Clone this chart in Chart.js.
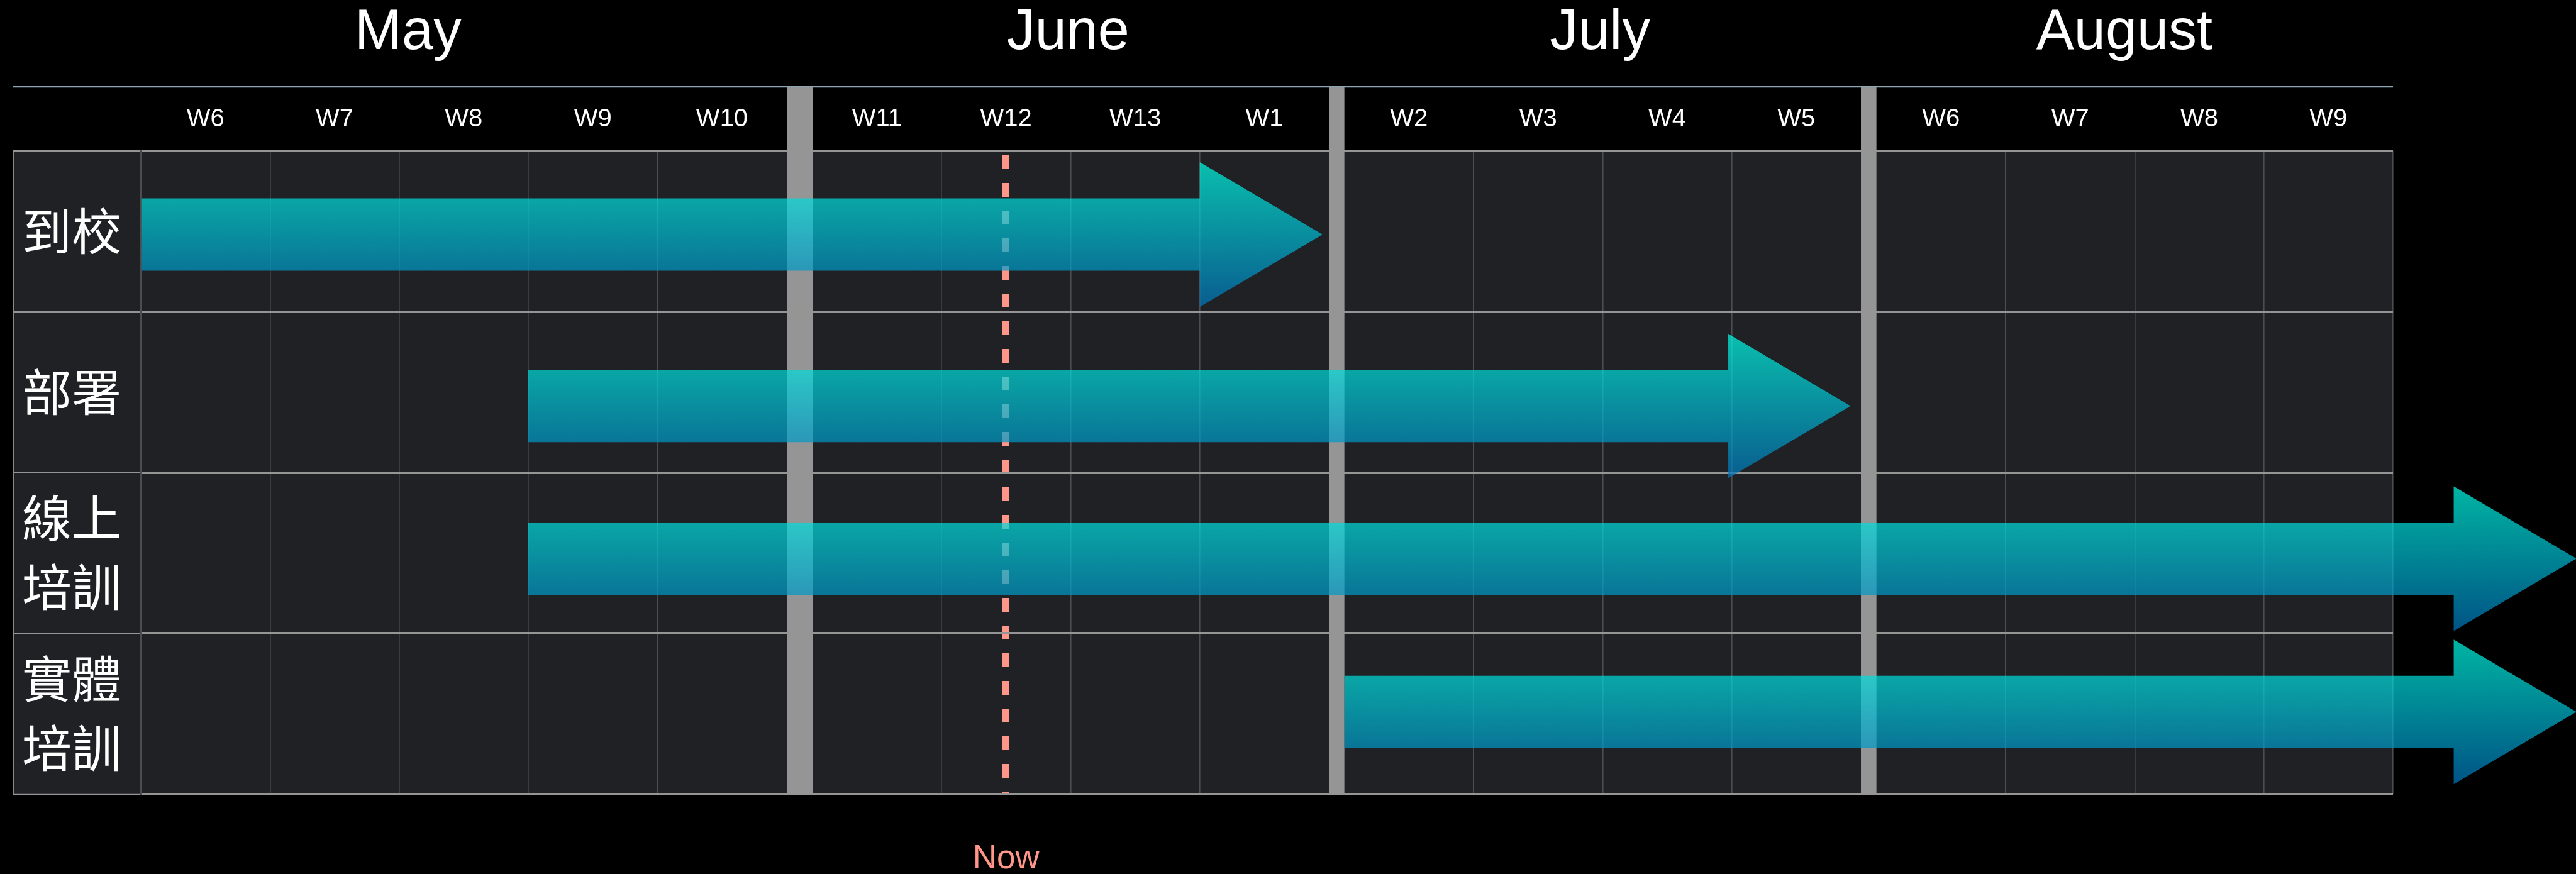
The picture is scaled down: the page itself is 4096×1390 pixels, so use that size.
<!DOCTYPE html>
<html>
<head>
<meta charset="utf-8">
<script src="https://cdn.jsdelivr.net/npm/chart.js@4/dist/chart.umd.min.js"></script>
<style>
  html, body { margin: 0; background: #000; }
  canvas { display: block; }
</style>
</head>
<body>
<canvas id="gantt" width="4096" height="1390"></canvas>
<script>
// values
const months = ["May", "June", "July", "August"];
const weeksPerMonth = [5, 4, 4, 4];
const weekLabels = ["W6", "W7", "W8", "W9", "W10", "W11", "W12", "W13", "W1", "W2", "W3", "W4", "W5", "W6", "W7", "W8", "W9"];
const monthLabelAt = [2.07, 6.98, 10.98, 14.92]; // week position of each month name
const tasks = ["到校", "部署", ["線上", "培訓"], ["實體", "培訓"]];
const taskStart = [0, 3, 3, 9];              // week where the arrow starts
const taskEnd = [8.95, 12.92, 18.42, 18.42]; // week where the arrow tip is
const nowAt = 6.5;

// look
const latin = "'Liberation Sans', Arial, sans-serif";
const cjk = "'Noto Sans CJK TC', 'Noto Sans CJK SC', sans-serif";
const gridBg = "#202124";
const lineGrey = "#959595";
const weekLine = "#4a4d52";
const nowColor = "#ff968a";
const monthGap = [0.2, 0.12, 0.12]; // grey separator between months, in weeks
const headLen = 195;
const arrowShift = [5, 22, 9, -3]; // arrows sit a little off their row centre

// week index -> axis value (month separators take a bit of room)
const monthBounds = [];
weeksPerMonth.reduce((acc, n, i) => { if (i > 0) monthBounds.push(acc); return acc + n; }, 0);
function axisPos(w) {
  let v = w;
  monthBounds.forEach((b, k) => { if (w >= b) v += monthGap[k]; });
  return v;
}
const xMax = axisPos(weekLabels.length);

// ticks of the week axis: boundaries, separators and labels
const xTicks = [];
weekLabels.forEach((w, i) => {
  const k = monthBounds.indexOf(i);
  if (k >= 0) xTicks.push({ value: axisPos(i) - monthGap[k] / 2, kind: "band", gap: monthGap[k] });
  else xTicks.push({ value: axisPos(i), kind: "line" });
  xTicks.push({ value: axisPos(i) + 0.5, kind: "label", text: w });
});
xTicks.push({ value: xMax, kind: "line" });

function bandWidth(c) {
  const t = xTicks[c.index];
  return c.scale.getPixelForValue(t.gap) - c.scale.getPixelForValue(0);
}

const frame = {
  id: "frame",
  beforeDraw(chart) {
    const { ctx, chartArea: a } = chart;
    const left = chart.scales.y.left;
    ctx.save();
    ctx.fillStyle = "#000";
    ctx.fillRect(0, 0, chart.width, chart.height);
    ctx.fillStyle = gridBg;
    ctx.fillRect(left, a.top, a.right - left, a.bottom - a.top);
    // rule under the month names
    const ry = chart.scales.month.bottom;
    ctx.strokeStyle = "#8ca5b4";
    ctx.lineWidth = 2.5;
    ctx.beginPath();
    ctx.moveTo(left, ry);
    ctx.lineTo(a.right, ry);
    ctx.stroke();
    // label column frame
    const y = chart.scales.y;
    ctx.strokeStyle = lineGrey;
    for (let i = 0; i <= tasks.length; i++) {
      const py = y.getPixelForValue(i - 0.5);
      ctx.lineWidth = i === 0 ? 4 : 2.5;
      ctx.beginPath();
      ctx.moveTo(left, py);
      ctx.lineTo(a.left, py);
      ctx.stroke();
    }
    ctx.lineWidth = 2;
    ctx.strokeStyle = "#8a8a8a";
    ctx.beginPath();
    ctx.moveTo(left + 1, a.top);
    ctx.lineTo(left + 1, a.bottom);
    ctx.stroke();
    ctx.restore();
  },
  afterDatasetsDraw(chart) {
    const { ctx } = chart;
    const meta = chart.getDatasetMeta(0);
    ctx.save();
    ctx.globalAlpha = 0.71;
    meta.data.forEach((el, i) => {
      const p = el.getProps(["x", "y", "base", "height"], true);
      const x = p.x, base = p.base, y = p.y + arrowShift[i];
      const h = p.height / 2;
      const hb = x - headLen;
      const g = ctx.createLinearGradient(0, y - 2 * h, 0, y + 2 * h);
      g.addColorStop(0, "#00ffe6");
      g.addColorStop(1, "#0076bc");
      ctx.fillStyle = g;
      ctx.beginPath();
      ctx.moveTo(base, y - h);
      ctx.lineTo(hb, y - h);
      ctx.lineTo(hb, y - 2 * h);
      ctx.lineTo(x, y);
      ctx.lineTo(hb, y + 2 * h);
      ctx.lineTo(hb, y + h);
      ctx.lineTo(base, y + h);
      ctx.closePath();
      ctx.fill();
    });
    ctx.restore();
  },
};

new Chart(document.getElementById("gantt"), {
  type: "bar",
  data: {
    labels: tasks,
    datasets: [{
      data: tasks.map((t, i) => [axisPos(taskStart[i]), axisPos(taskEnd[i])]),
      backgroundColor: "rgba(0,0,0,0)",
      borderWidth: 0,
      barThickness: 115,
    }],
  },
  options: {
    indexAxis: "y",
    responsive: false,
    devicePixelRatio: 1,
    animation: false,
    events: [],
    layout: { padding: { left: 20, right: 291, top: 0, bottom: 0 } },
    plugins: {
      legend: { display: false },
      tooltip: { enabled: false },
    },
    scales: {
      x: {
        type: "linear",
        position: "top",
        weight: 0,
        min: 0,
        max: xMax,
        afterBuildTicks: (s) => { s.ticks = xTicks.map((t) => ({ value: t.value })); },
        afterFit: (s) => { s.height = 102; },
        border: { display: false },
        grid: {
          drawTicks: true,
          tickLength: 102,
          color: (c) => {
            const t = xTicks[c.index];
            if (!t || t.kind === "label") return "rgba(0,0,0,0)";
            return t.kind === "band" ? lineGrey : weekLine;
          },
          lineWidth: (c) => {
            const t = xTicks[c.index];
            if (!t || t.kind === "label") return 0;
            return t.kind === "band" ? bandWidth(c) : 1.6;
          },
          tickColor: (c) => (xTicks[c.index] && xTicks[c.index].kind === "band" ? lineGrey : "rgba(0,0,0,0)"),
          tickWidth: (c) => (xTicks[c.index] && xTicks[c.index].kind === "band" ? bandWidth(c) : 0),
        },
        ticks: {
          autoSkip: false,
          maxRotation: 0,
          padding: -76,
          color: "#fff",
          font: { family: latin, size: 40 },
          callback: (v, i) => xTicks[i].text || "",
        },
      },
      month: {
        type: "linear",
        position: "top",
        weight: 1,
        min: 0,
        max: xMax,
        afterBuildTicks: (s) => { s.ticks = monthLabelAt.map((w) => ({ value: axisPos(w) })); },
        afterFit: (s) => { s.height = 138; },
        border: { display: false },
        grid: { display: false },
        ticks: {
          autoSkip: false,
          maxRotation: 0,
          padding: 23,
          color: "#fff",
          font: { family: latin, size: 90 },
          callback: (v, i) => months[i],
        },
      },
      now: {
        type: "linear",
        position: "bottom",
        min: 0,
        max: xMax,
        afterBuildTicks: (s) => { s.ticks = [{ value: axisPos(nowAt) }]; },
        afterFit: (s) => { s.height = 127; },
        border: { display: false, dash: [22, 22], dashOffset: 37 },
        grid: { color: nowColor, lineWidth: 11, drawTicks: false },
        ticks: {
          autoSkip: false,
          maxRotation: 0,
          padding: 72,
          color: nowColor,
          font: { family: latin, size: 53 },
          callback: () => "Now",
        },
      },
      y: {
        afterFit: (s) => { s.width = 204; },
        border: { display: true, color: weekLine, width: 2 },
        grid: {
          offset: true,
          drawTicks: false,
          color: lineGrey,
          lineWidth: (c) => (c.index === tasks.length ? 2.5 : 4),
        },
        ticks: {
          autoSkip: false,
          padding: 31,
          color: "#fff",
          font: { family: cjk, size: 79, lineHeight: 1.39 },
        },
      },
    },
  },
  plugins: [frame],
});
</script>
</body>
</html>
